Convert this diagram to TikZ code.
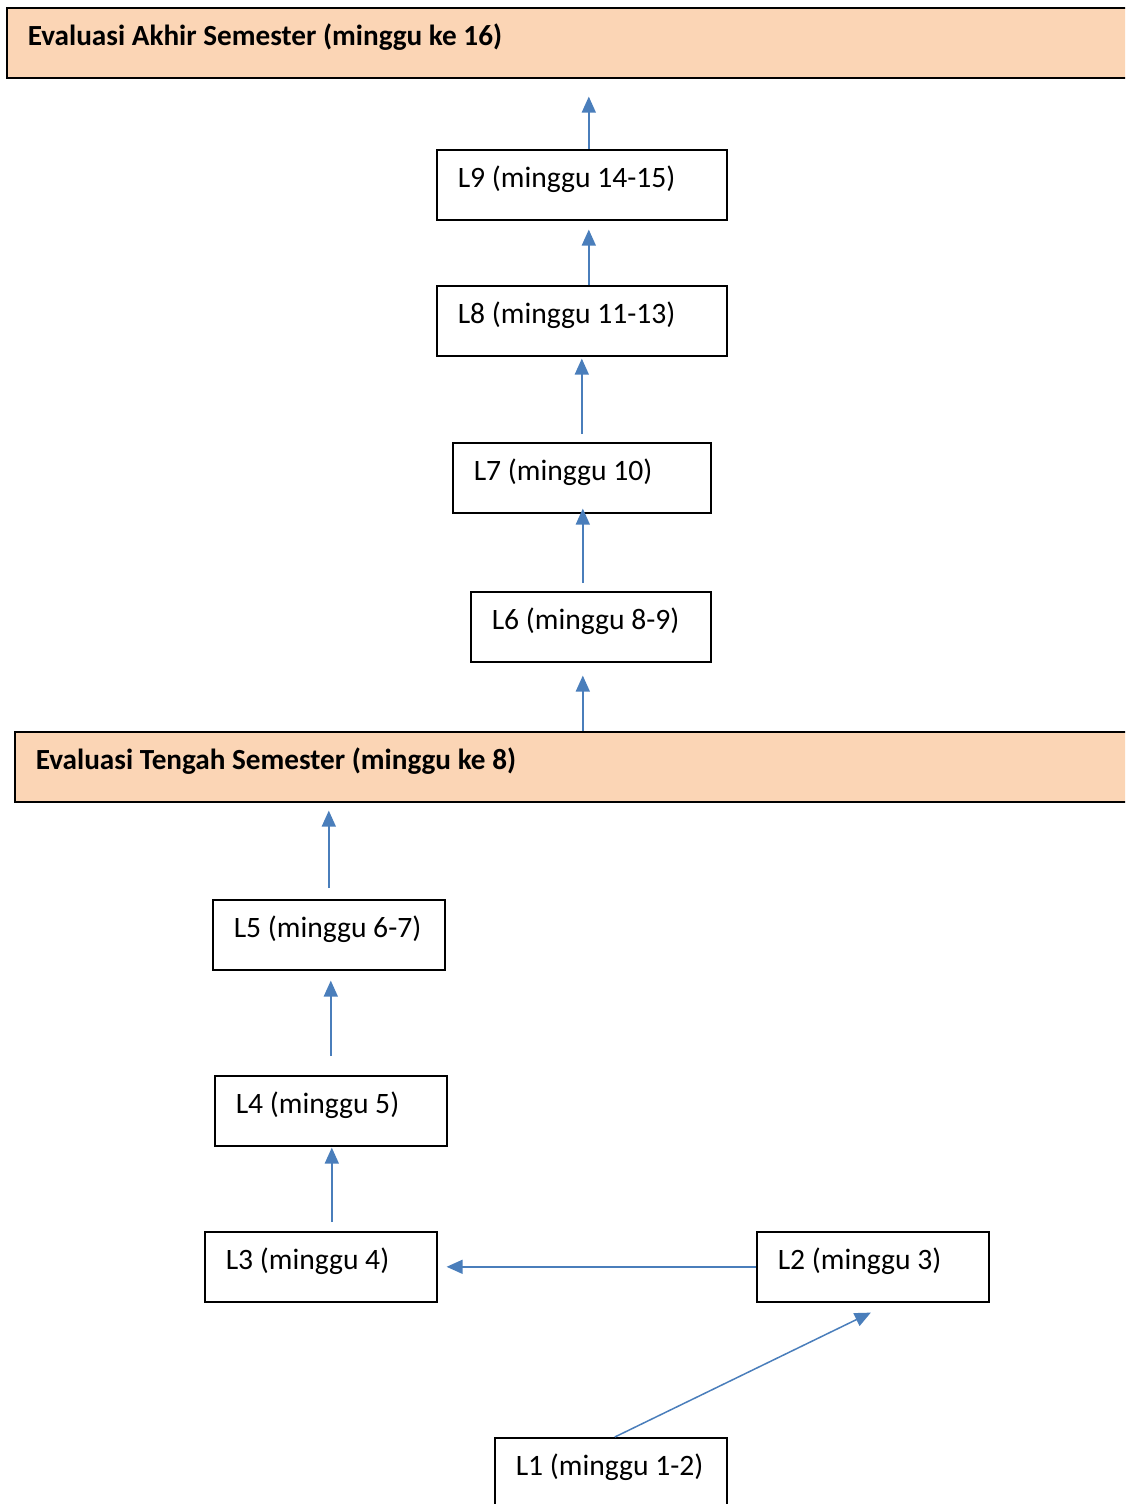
\documentclass[tikz,border=0pt]{standalone}
\usepackage{fontspec}
\setmainfont{Carlito}
\usetikzlibrary{arrows.meta}
\definecolor{arrowblue}{HTML}{4A7EBB}
\definecolor{evalfill}{HTML}{FBD5B5}
\begin{document}
\begin{tikzpicture}[
    x=0.5pt, y=-0.5pt,
    arrowstyle/.style={draw=arrowblue, line width=0.75pt,
        -{Triangle[length=8pt, width=7pt]}},
    topic/.style={rectangle, draw, line width=0.8pt, anchor=north west,
        inner xsep=10.5pt, inner ysep=0pt, text height=19pt, text depth=16pt,
        align=flush left, text width=95pt, font=\fontsize{14.8}{17}\selectfont},
    evaluation/.style={topic, fill=evalfill, font=\fontsize{14.6}{17}\selectfont\bfseries}
]
\clip (0,0) rectangle (1125,1504);

\node (EvalEnd) [evaluation, text width=546pt] at (6,7) {Evaluasi Akhir Semester (minggu ke 16)};
\node (Topic09) [topic, text width=124pt] at (436,149) {L9 (minggu 14-15)};
\node (Topic08) [topic, text width=124pt] at (436,285) {L8 (minggu 11-13)};
\node (Topic07) [topic, text width=108pt] at (452,442) {L7 (minggu 10)};
\node (Topic06) [topic, text width=99pt] at (470,591) {L6 (minggu 8-9)};
\node (EvalMid) [evaluation, text width=542pt] at (14,731) {Evaluasi Tengah Semester (minggu ke 8)};
\node (Topic05) [topic] at (212,899) {L5 (minggu 6-7)};
\node (Topic04) [topic] at (214,1075) {L4 (minggu 5)};
\node (Topic03) [topic] at (204,1231) {L3 (minggu 4)};
\node (Topic02) [topic] at (756,1231) {L2 (minggu 3)};
\node (Topic01) [topic] at (494,1437) {L1 (minggu 1-2)};

\draw[arrowstyle, shorten >=9pt] ([xshift=3.5pt]Topic09.north) -- ([xshift=3.5pt]Topic09.north |- EvalEnd.south);
\draw[arrowstyle, shorten >=4.5pt] ([xshift=3.5pt]Topic08.north) -- ([xshift=3.5pt]Topic09.south);
\draw[arrowstyle, shorten <=4pt, shorten >=1pt] (Topic07.north) -- (Topic07.north |- Topic08.south);
\draw[arrowstyle, shorten <=4pt, shorten >=-2.5pt] ([xshift=-4pt]Topic06.north) -- ([xshift=-4pt]Topic06.north |- Topic07.south);
\draw[arrowstyle, shorten >=6.5pt] ([xshift=-4pt]Topic06.south |- EvalMid.north) -- ([xshift=-4pt]Topic06.south);
\draw[arrowstyle, shorten <=5.5pt, shorten >=4pt] (Topic05.north) -- (Topic05.north |- EvalMid.south);
\draw[arrowstyle, shorten <=9.5pt, shorten >=5pt] (Topic04.north) -- (Topic04.north |- Topic05.south);
\draw[arrowstyle, shorten <=4.5pt, shorten >=0.5pt] ([xshift=5.5pt]Topic03.north) -- ([xshift=5.5pt]Topic03.north |- Topic04.south);
\draw[arrowstyle, shorten >=4.5pt] (Topic02.west) -- (Topic02.west -| Topic03.east);
\draw[arrowstyle] ([xshift=2pt]Topic01.north) -- ([xshift=-1pt, yshift=-5pt]Topic02.south);

\end{tikzpicture}
\end{document}
